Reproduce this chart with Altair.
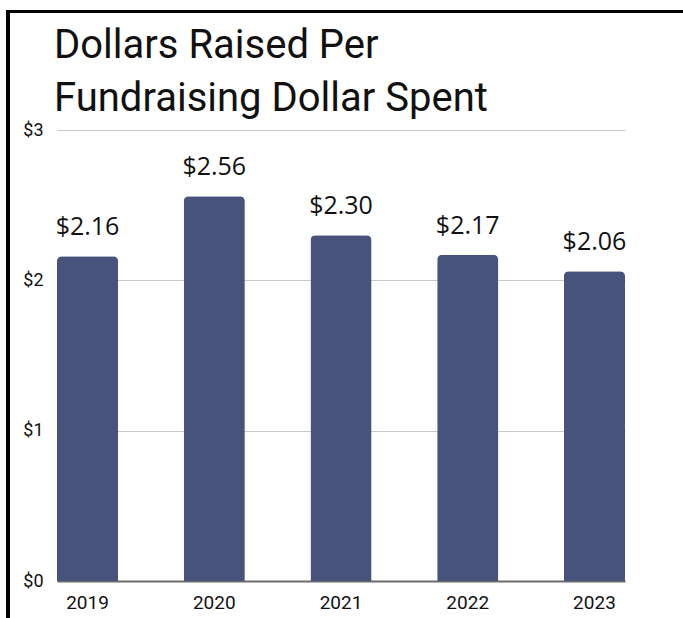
import altair as alt
import pandas as pd

years = ["2019", "2020", "2021", "2022", "2023"]
values = [2.16, 2.56, 2.30, 2.17, 2.06]
labels = ["$2.16", "$2.56", "$2.30", "$2.17", "$2.06"]

df = pd.DataFrame({"year": years, "value": values, "label": labels})

BAR = "#47537a"

base = alt.Chart(df).encode(
    x=alt.X("year:N", title=None, sort=years,
            scale=alt.Scale(paddingInner=0.518, paddingOuter=0),
            axis=alt.Axis(labelAngle=0, labelFont="Roboto", labelFontSize=19,
                          labelColor="#111", labelPadding=12, ticks=False,
                          domain=True, domainColor="#6b6b6b", domainWidth=2)),
)

bars = base.mark_bar(color=BAR, cornerRadiusTopLeft=5, cornerRadiusTopRight=5).encode(
    y=alt.Y("value:Q", title=None,
            scale=alt.Scale(domain=[0, 3], nice=False),
            axis=alt.Axis(values=[0, 1, 2, 3], format="$,.0f", labelFont="Roboto",
                          labelFontSize=18, labelColor="#111", labelPadding=14,
                          ticks=False, domain=False, grid=True,
                          gridColor="#c8c8c8", gridWidth=1)),
)

text = base.mark_text(font="Open Sans", fontSize=25, color="#111",
                      baseline="alphabetic", dy=-21).encode(
    y="value:Q", text="label:N"
)

border_left = alt.Chart(df).mark_rule(color="black", strokeWidth=3).encode(
    x=alt.value(-49), y=alt.value(-119), y2=alt.value(520)
)
border_top = alt.Chart(df).mark_rule(color="black", strokeWidth=2.5).encode(
    x=alt.value(-50.5), x2=alt.value(700), y=alt.value(-118.5)
)

chart = alt.layer(bars, text, border_left, border_top).properties(
    width=568,
    height=451,
    background="white",
    autosize=alt.AutoSizeParams(type="none"),
    padding={"left": 57, "top": 130, "right": 58, "bottom": 37},
    title=alt.TitleParams(
        text=["Dollars Raised Per", "Fundraising Dollar Spent"],
        anchor="start", frame="group", font="Roboto", fontSize=40,
        fontWeight="normal", color="#111", lineHeight=53, offset=2,
        dx=-3, dy=111,
    ),
).configure_view(stroke="transparent")

chart.save("out.html", embed_options={"renderer": "svg", "actions": False})
